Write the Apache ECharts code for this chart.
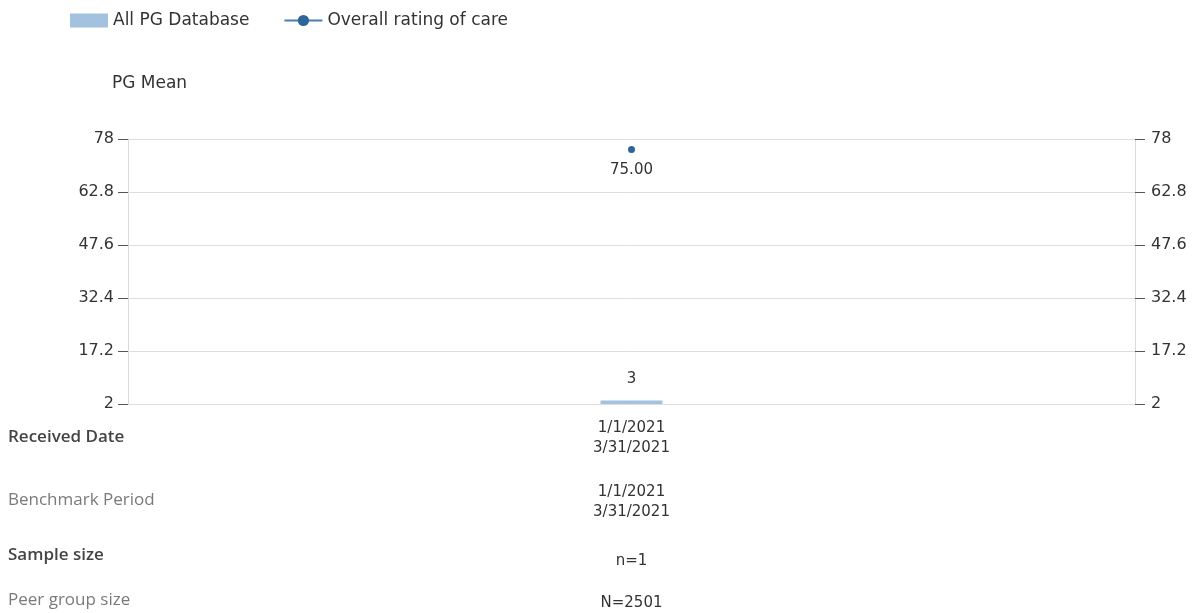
<!DOCTYPE html>
<html>
<head>
<meta charset="utf-8">
<script src="https://cdn.jsdelivr.net/npm/echarts@6/dist/echarts.min.js"></script>
<style>
  html, body { margin: 0; padding: 0; background: #fff; }
  #chart { width: 1194px; height: 613px; }
</style>
</head>
<body>
<div id="chart"></div>
<script>
// data
var receivedDates = ['1/1/2021\n3/31/2021'];
var benchmarkPeriods = ['1/1/2021\n3/31/2021'];
var sampleSizes = ['n=1'];
var peerGroupSizes = ['N=2501'];
var pgDatabase = [3];
var overallRating = [75];
var yTicks = [2, 17.2, 32.4, 47.6, 62.8, 78];

var rowLabels = ['Received Date', 'Benchmark Period', 'Sample size', 'Peer group size'];

var font = '"DejaVu Sans", Verdana, sans-serif';
var dom = document.getElementById('chart');
var myChart = echarts.init(dom, null, { renderer: 'canvas' });

function valueAxis(pos) {
    return {
        type: 'value',
        position: pos,
        min: yTicks[0],
        max: yTicks[yTicks.length - 1],
        interval: yTicks[1] - yTicks[0],
        name: pos === 'left' ? 'PG Mean' : '',
        nameLocation: 'end',
        nameGap: 47,
        nameTextStyle: { color: '#333', fontSize: 17, fontFamily: font, align: 'left', padding: [0, 0, 0, -16] },
        axisLine: { show: true, lineStyle: { color: '#d9d9d9' } },
        axisTick: { show: true, length: 10, lineStyle: { color: '#555' } },
        splitLine: { show: pos === 'left', lineStyle: { color: '#dedede' } },
        axisLabel: {
            color: '#333', fontSize: 16, fontFamily: font, margin: pos === 'left' ? 14 : 16,
            formatter: function (v) { return String(Math.round(v * 10) / 10); }
        }
    };
}

function rowAxis(data, offset) {
    return {
        type: 'category',
        position: 'bottom',
        data: data,
        offset: offset,
        axisLine: { show: false },
        axisTick: { show: false },
        axisLabel: { color: '#333', fontSize: 15, fontFamily: font, lineHeight: 20, margin: 14 }
    };
}

var rowY = [437, 500, 555, 600];

var option = {
    animation: false,
    legend: {
        left: 65, top: 7,
        itemWidth: 38, itemHeight: 14, itemGap: 34,
        textStyle: { color: '#333', fontSize: 17, fontFamily: font },
        data: [
            { name: 'All PG Database', icon: 'rect' },
            { name: 'Overall rating of care' }
        ]
    },
    grid: { left: 128, right: 59, top: 139, bottom: 209, containLabel: false },
    xAxis: [
        rowAxis(receivedDates, 0),
        rowAxis(benchmarkPeriods, 64),
        rowAxis(sampleSizes, 133),
        rowAxis(peerGroupSizes, 175)
    ],
    yAxis: [valueAxis('left'), valueAxis('right')],
    graphic: rowLabels.map(function (t, i) {
        var bold = (i % 2 === 0);
        return {
            type: 'text', left: 8, top: rowY[i] - 8,
            style: {
                text: t,
                fill: bold ? '#444' : '#7a7a7a',
                font: (bold ? '600 ' : '') + '17px "Open Sans", sans-serif'
            }
        };
    }),
    series: [
        {
            name: 'All PG Database',
            type: 'bar',
            data: pgDatabase,
            barWidth: 62,
            itemStyle: { color: '#a2c2e0' },
            label: { show: true, position: 'top', distance: 14, color: '#333', fontSize: 15, fontFamily: font }
        },
        {
            name: 'Overall rating of care',
            type: 'line',
            data: overallRating,
            symbol: 'circle',
            symbolSize: 7,
            itemStyle: { color: '#2e6497' },
            lineStyle: { color: '#4a7fb5', width: 2 },
            label: {
                show: true, position: 'bottom', distance: 10, color: '#333', fontSize: 15, fontFamily: font,
                formatter: function (p) { return p.value.toFixed(2); }
            }
        }
    ]
};

myChart.setOption(option);
window.addEventListener('resize', myChart.resize);
</script>
</body>
</html>
